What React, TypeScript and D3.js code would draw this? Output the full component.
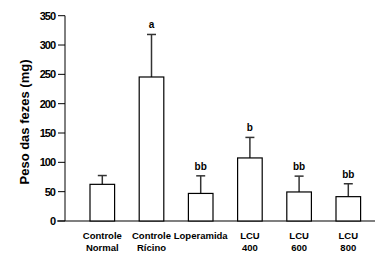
import { useEffect, useRef } from 'react';
import * as d3 from 'd3';

const groups = ['Controle Normal', 'Controle Rícino', 'Loperamida', 'LCU 400', 'LCU 600', 'LCU 800'];
const groupLines = [['Controle', 'Normal'], ['Controle', 'Rícino'], ['Loperamida'], ['LCU', '400'], ['LCU', '600'], ['LCU', '800']];
const means = [62.5, 245.5, 47, 107.5, 49.5, 41.5];
const errors = [15, 72.5, 30, 35, 27, 22];
const letters = ['', 'a', 'bb', 'b', 'bb', 'bb'];
const yTicks = [0, 50, 100, 150, 200, 250, 300, 350];

export default function App() {
	const svgRef = useRef<SVGSVGElement>(null);

	useEffect(() => {
		const svg = d3.select(svgRef.current);
		svg.selectAll('*').remove();

		const font = '"Liberation Sans", Arial, sans-serif';

		const x = d3.scaleBand()
			.domain(groups)
			.range([65.4, 385.2])
			.paddingInner(0.5)
			.paddingOuter(0.5);

		const y = d3.scaleLinear()
			.domain([0, 350])
			.range([221, 15.7]);

		// axes
		svg.append('line')
			.attr('x1', 65).attr('x2', 65)
			.attr('y1', y(350)).attr('y2', y(0))
			.attr('stroke', '#000').attr('stroke-width', 1);
		svg.append('line')
			.attr('x1', 57).attr('x2', 375)
			.attr('y1', y(0)).attr('y2', y(0))
			.attr('stroke', '#000').attr('stroke-width', 1.2);

		const ticks = svg.append('g');
		ticks.selectAll('line')
			.data(yTicks)
			.join('line')
			.attr('x1', 58).attr('x2', 65)
			.attr('y1', d => y(d)).attr('y2', d => y(d))
			.attr('stroke', '#000');
		ticks.selectAll('text')
			.data(yTicks)
			.join('text')
			.attr('x', 55)
			.attr('y', d => y(d))
			.attr('dy', '0.35em')
			.attr('text-anchor', 'end')
			.attr('font-family', font)
			.attr('font-weight', 'bold')
			.attr('font-size', 11)
			.attr('letter-spacing', -1)
			.text(d => d);

		svg.append('text')
			.attr('transform', `translate(29, 122) rotate(-90)`)
			.attr('text-anchor', 'middle')
			.attr('font-family', font)
			.attr('font-weight', 'bold')
			.attr('font-size', 13)
			.text('Peso das fezes (mg)');

		// error bars
		const err = svg.append('g');
		groups.forEach((g, i) => {
			const cx = x(g)! + x.bandwidth() / 2;
			err.append('line')
				.attr('x1', cx).attr('x2', cx)
				.attr('y1', y(means[i])).attr('y2', y(means[i] + errors[i]))
				.attr('stroke', '#333').attr('stroke-width', 1.5);
			err.append('line')
				.attr('x1', cx - 4.5).attr('x2', cx + 4.5)
				.attr('y1', y(means[i] + errors[i])).attr('y2', y(means[i] + errors[i]))
				.attr('stroke', '#333').attr('stroke-width', 1.5);
			if (letters[i]) {
				err.append('text')
					.attr('x', cx)
					.attr('y', y(means[i] + errors[i]) - 6)
					.attr('text-anchor', 'middle')
					.attr('font-family', font)
					.attr('font-weight', 'bold')
					.attr('font-size', 10)
					.text(letters[i]);
			}
		});

		// bars
		svg.append('g')
			.selectAll('rect')
			.data(groups)
			.join('rect')
			.attr('x', d => x(d)!)
			.attr('y', (d, i) => y(means[i]))
			.attr('width', x.bandwidth())
			.attr('height', (d, i) => y(0) - y(means[i]))
			.attr('fill', '#fff')
			.attr('stroke', '#000')
			.attr('stroke-width', 1.2);

		// x labels
		const xl = svg.append('g');
		groups.forEach((g, i) => {
			const cx = x(g)! + x.bandwidth() / 2;
			const t = xl.append('text')
				.attr('text-anchor', 'middle')
				.attr('font-family', font)
				.attr('font-weight', 'bold')
				.attr('font-size', 9.5);
			groupLines[i].forEach((ln, j) => {
				t.append('tspan')
					.attr('x', cx)
					.attr('y', 238.5 + j * 12)
					.text(ln);
			});
		});
	}, []);

	return (
		<svg ref={svgRef} width={377} height={253} style={{ position: 'absolute', left: 0, top: 0, background: '#fff' }} />
	);
}
